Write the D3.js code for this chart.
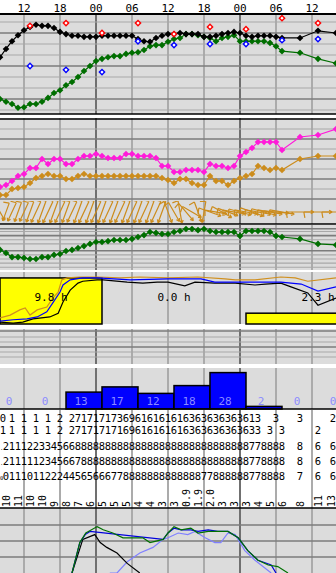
<!DOCTYPE html>
<html>
<head>
<meta charset="utf-8">
<script src="https://cdn.jsdelivr.net/npm/d3@7/dist/d3.min.js"></script>
<style>
body{margin:0;background:#fff}
svg{display:block}
text{font-family:"DejaVu Sans Mono",monospace}
</style>
</head>
<body>
<svg id="chart" width="336" height="573"></svg>
<script>
// hours counted from 08 UTC of the first day
var hours = d3.range(0, 48).concat([50, 53, 56])
var tickHours = [4, 10, 16, 22, 28, 34, 40, 46, 52]
var tickLabels = ["12", "18", "00", "06", "12", "18", "00", "06", "12"]

// temperature / dew point (deg C)
var temp = [1.6,3.1,4.5,5.6,6.5,7.1,7.5,7.3,7.3,6.9, 6.2,5.8,5.5,5.5,5.3,5.3,5.3,5.5,5.5,5.5,
  5.5,5.5,5.5,4.9,4.5,4.4,5.1,5.5,5.8,5.8, 6.0,5.8,5.8,5.8,5.3,5.3,5.5,5.8,6.0,6.2,
  6.0,5.5,5.3,5.5,5.5,5.5,5.3,5.1, 5.1,6.4,6.0]
var dew = [-6.0,-6.5,-6.9,-7.6,-7.5,-6.9,-6.9,-6.5,-5.8,-4.9, -4.4,-3.5,-2.9,-2.0,-0.9,0.0,0.9,1.3,1.6,1.8,
  1.8,2.2,2.4,2.5,2.9,3.6,3.8,3.8,4.4,4.9, 5.1,5.8,5.8,5.6,5.3,5.1,4.5,5.1,5.3,5.6,
  4.5,4.5,4.5,4.5,4.5,4.2,3.6,2.7, 2.4,1.3,0.5]
var extHours = [5, 11, 17, 23, 29, 35, 41, 47, 53]
var tMax = [7.3, 7.8, 6.0, 7.8, 5.8, 7.1, 6.7, 8.7, 7.8]
var tMin = [0.0, -0.7, -1.1, 4.5, 3.8, 4.0, 4.0, 4.7, 4.9]

// wind gust / mean wind (m/s) and direction the wind blows to (deg)
var gust = [2.4,2.8,3.6,4.6,5.0,6.2,6.2,8.0,7.0,8.0, 8.0,7.0,7.0,8.0,8.6,8.6,9.0,8.6,8.2,8.2,
  8.2,9.0,9.0,8.6,8.6,8.6,8.2,6.6,6.6,5.4, 5.4,5.8,5.8,5.8,5.4,7.0,6.6,6.6,6.2,6.6,
  8.6,9.4,10.2,11.4,11.4,11.4,11.4,9.8, 12.4,12.8,14.0]
var wind = [0.8,0.8,2.0,2.2,2.4,3.2,4.2,4.6,5.0,4.6, 4.6,4.0,4.0,4.6,5.0,4.6,4.6,4.6,4.6,4.6,
  4.6,4.6,4.6,4.6,4.6,4.6,4.6,4.2,3.8,3.2, 4.0,4.0,3.2,2.8,2.8,4.6,3.6,3.6,2.8,3.6,
  4.2,4.6,5.0,6.6,6.2,5.8,6.2,5.8, 8.0,8.6,8.6]
var windDir = [150,200,205,200,205,200,205,200,205,200, 205,200,205,200,205,200,205,200,205,200,
  205,200,205,200,205,200,205,200,160,150, 170,140,120,160,190,110,100,120,110,100,
  105,100,110,100,105,100,95,100, 90,90,90]

// temperature aloft
var t850 = [-4.7,-5.8,-7.3,-7.3,-7.6,-8.0,-8.0,-7.3,-7.3,-6.5, -6.2,-5.1,-4.7,-4.0,-3.3,-2.5,-1.8,-1.8,-1.5,-1.1,
  -1.1,-1.1,-0.7,0.0,0.7,1.8,1.5,1.1,1.1,1.8, 2.2,2.9,2.9,2.5,2.9,2.2,1.8,1.8,1.8,1.8,
  0.4,2.2,2.2,2.2,2.2,1.8,0.4,0.0, -0.7,-2.5,-2.9]

// sunshine per day (h)
var sunStart = [0, 17, 41]
var sunEnd = [17, 41, 65]
var sunHours = [9.8, 0.0, 2.3]

// cloud cover (%), [hour, value]
var cloudHigh = [[0,13],[1.7,19],[3.3,30],[4.2,34],[5,19],[6.2,30],[7.8,36],[8.8,55],[9.7,68],[10.3,94],[11.2,98],
  [13.3,100],[16.2,100],[20,98],[23.3,100],[28,98],[33,100],[37.5,96],[39.2,94],[42.5,94],[46.8,100],[49.2,98],[51.3,91],[56,98]]
var cloudMid = [[0,6],[2.2,9],[4.5,11],[6.2,15],[7.8,26],[8.8,45],[10,68],[10.5,83],[11.7,94],[13.8,98],[16.2,98],
  [21.7,94],[28,96],[33.5,96],[35.8,89],[39.2,89],[44.2,89],[46.8,89],[50.2,85],[53,70],[56,79]]
var cloudLow = [[0,4],[2.2,2],[3.8,4],[5.5,11],[8.3,15],[9.7,23],[10.5,47],[11.7,72],[13,87],[13.8,91],[16.2,94],
  [17.2,94],[21.2,89],[23.8,87],[26.2,89],[28,89],[30.8,81],[32.5,89],[35.8,87],[39.2,87],[42.5,83],[44.2,85],
  [46.8,87],[48.5,79],[51.3,66],[53,40],[56,55]]

// precipitation, 6-hour blocks
var precStart = [-1, 5, 11, 17, 23, 29, 35, 41, 47, 53]
var precValue = [0, 0, 13, 17, 12, 18, 28, 2, 0, 0]

// text rows, one character per hour (h0..h47) then 3-hourly
var textRows = [
  "0 1 1 1 1 2 2" + "7171717369616161616363636363613" + "  3 ",
  "1 1 1 1 1 2 2" + "7171717169616161616363636363633" + " 3 3",
  ".2111223345668" + "8888888888888888888888888888" + "778888",
  ".21111123456678" + "888888888888888888888888888" + "778888",
  "001110112224456566677" + "8888888888888" + "77" + "888888" + "778888"
]
var textRowsLate = [["3", "", "2"], ["", "2", ""], ["8", "6", "6"], ["8", "6", "6"], ["7", "6", "6"]]
var rotHours = [1,3,5,7,9,11,13,15,17,19,21,23,25,27,29,31,33,35,37,39,41,43,45,47,50,53,56]
var rotLabels = ["10","11","10","10","9","8","7","6","5","5","5","4","4","3","3","0.9","1.9","2.0","3","3","3","4","5","6","8","11","13"]

// bottom panel curves, [hour, value]
var curveGreen = [[12,0],[13.3,19],[14.3,25],[16.2,29],[17.2,27],[18.8,25],[20.5,22],[23.8,22],[25,19],[27.2,21],[28,25],
  [29,29],[30.2,27],[31.8,28],[33,25],[34.7,26],[36.3,26],[38,26],[39.7,22],[41.3,14],[43,8],[44.7,5],[46.3,4],[48,0]]
var curveBlue = [[12,0],[13.3,19],[14.2,24],[15,26],[27.2,21],[28,25],[29,28],[30.2,27],[31.8,27],[33,26],[34.7,27],
  [36.3,26],[38,26],[39.7,22],[41.3,14],[43,8],[45.2,5],[46,0]]
var curveBlack = [[12,0],[13.8,21],[15.8,24],[16.7,19],[17.8,16],[19.5,12.5],[21.2,6],[23.3,0]]
var curveLight = [[18.3,0],[19.5,0],[21.2,7],[23.3,12.5],[25.5,16],[27.2,21],[28,22],[29.7,25],[31.3,24],[32.5,26],
  [34.2,22],[35.8,19],[36.8,19],[38,25],[39.2,24],[40.8,14],[42.5,8],[45.2,0]]

var svg = d3.select("#chart")
var x = d3.scaleLinear().domain([0, 56]).range([0, 336])
var W = 336

var gBg = svg.append("g")
var gGrid = svg.append("g")
var gData = svg.append("g")
var gTop = svg.append("g")

function panel(y0, y1) {
  gBg.append("rect").attr("x", 0).attr("y", y0).attr("width", W).attr("height", y1 - y0).attr("fill", "#dcdcdc")
}
function vGrid(y0, y1) {
  tickHours.forEach(function(h, i) {
    var dark = tickLabels[i] == "00"
    gGrid.append("line").attr("x1", x(h)).attr("x2", x(h)).attr("y1", y0).attr("y2", y1)
      .attr("stroke", dark ? "#707070" : "#ababab").attr("stroke-width", 2)
  })
}
function hGrid(scale, vals, darkFn) {
  vals.forEach(function(v) {
    gGrid.append("line").attr("x1", 0).attr("x2", W).attr("y1", scale(v)).attr("y2", scale(v))
      .attr("stroke", darkFn(v) ? "#7c7c7c" : "#a8a8a8").attr("stroke-width", darkFn(v) ? 1.6 : 1.2)
  })
}
function hline(y, color, w) {
  gTop.append("line").attr("x1", 0).attr("x2", W).attr("y1", y).attr("y2", y)
    .attr("stroke", color).attr("stroke-width", w)
}
var diamond = d3.symbol(d3.symbolSquare, 22)
function series(g, xs, ys, yScale, color, marker) {
  var pts = xs.map(function(h, i) { return [x(h), yScale(ys[i])] })
  g.append("path").attr("d", d3.line()(pts)).attr("fill", "none").attr("stroke", color).attr("stroke-width", 1.2)
  if (marker) {
    g.selectAll(null).data(pts).enter().append("path")
      .attr("transform", function(p) { return "translate(" + p[0] + "," + p[1] + ") rotate(45)" })
      .attr("d", diamond).attr("fill", color)
  }
}
function curve(g, pairs, yScale, color) {
  g.append("path").attr("d", d3.line().x(function(d) { return x(d[0]) }).y(function(d) { return yScale(d[1]) })(pairs))
    .attr("fill", "none").attr("stroke", color).attr("stroke-width", 1.2)
}

// time labels
tickHours.forEach(function(h, i) {
  gTop.append("text").attr("x", x(h)).attr("y", 12).attr("text-anchor", "middle")
    .attr("font-size", 11).text(tickLabels[i])
})

// ---- panel 1: temperature
var tY = d3.scaleLinear().domain([-8, 10]).range([110, 11])
panel(14, 114); vGrid(14, 114)
hGrid(tY, d3.range(-8, 10, 2), function(v) { return v % 6 == 0 })
series(gData, hours, dew, tY, "#006e00", true)
series(gData, hours, temp, tY, "#000", true)
;[[tMax, "#ff0000"], [tMin, "#0000ff"]].forEach(function(s) {
  gData.selectAll(null).data(s[0]).enter().append("path")
    .attr("transform", function(v, i) { return "translate(" + x(extHours[i]) + "," + tY(v) + ") rotate(45)" })
    .attr("d", d3.symbol(d3.symbolSquare, 14)).attr("fill", "#fff").attr("stroke", s[1]).attr("stroke-width", 1.4)
})
hline(14, "#000", 2); hline(114, "#000", 1.5)

// ---- panel 2: wind
var wY = d3.scaleLinear().domain([0, 16]).range([199, 119])
panel(118, 224); vGrid(118, 224)
hGrid(wY, d3.range(0, 16, 2), function(v) { return v % 4 == 0 })
series(gData, hours, wind, wY, "#cc8c1c", true)
series(gData, hours, gust, wY, "#ff1ad9", true)
svg.append("clipPath").attr("id", "wclip").append("rect").attr("x", 0).attr("y", 201).attr("width", W).attr("height", 22)
var gW = gData.append("g").attr("clip-path", "url(#wclip)").attr("stroke", "#cc8c1c").attr("stroke-width", 1.2).attr("fill", "none")
hours.forEach(function(h, i) {
  var r = windDir[i] * Math.PI / 180, dx = Math.sin(r), dy = -Math.cos(r)
  var len = 18 + wind[i] * 1.2
  var cx = x(h), cy = 212
  var tx = cx - dx * len / 2, ty = cy - dy * len / 2, hx = cx + dx * len / 2, hy = cy + dy * len / 2
  var p = d3.path()
  p.moveTo(tx, ty); p.lineTo(hx, hy)
  ;[150, -150].forEach(function(a) {
    var ra = r + a * Math.PI / 180
    p.moveTo(hx, hy); p.lineTo(hx + Math.sin(ra) * 3.5, hy - Math.cos(ra) * 3.5)
  })
  // feather at the tail
  var rf = r + 80 * Math.PI / 180
  p.moveTo(tx, ty); p.lineTo(tx + Math.sin(rf) * 6, ty - Math.cos(rf) * 6)
  gW.append("path").attr("d", p.toString())
})
hline(119, "#000", 1.5); hline(224, "#000", 1.5)

// ---- panel 3: temperature aloft
var aY = d3.scaleLinear().domain([-12, 4]).range([270, 226])
panel(225, 270); vGrid(225, 270)
hGrid(aY, [-11, -9.5, -8, -6.5, -5, -2.5, -1, 0.5, 2, 3], function(v) { return v == 0.5 || v == 3 || v == -5 })
series(gData, hours, t850, aY, "#006e00", true)

// ---- panel 4: sunshine and clouds
var sY = d3.scaleLinear().domain([0, 10]).range([324, 277])
var cY = d3.scaleLinear().domain([0, 100]).range([324, 277])
panel(272, 324); vGrid(272, 324)
sunHours.forEach(function(v, i) {
  if (v > 0) {
    gData.append("rect").attr("x", x(sunStart[i])).attr("y", sY(v))
      .attr("width", x(sunEnd[i]) - x(sunStart[i])).attr("height", sY(0) - sY(v))
      .attr("fill", "#ffff00").attr("stroke", "#000").attr("stroke-width", 1.5)
  }
})
curve(gData, cloudLow, cY, "#000")
curve(gData, cloudHigh, cY, "#d09020")
curve(gData, cloudMid, cY, "#0000ff")
sunHours.forEach(function(v, i) {
  gData.append("text").attr("x", x((sunStart[i] + sunEnd[i]) / 2)).attr("y", 301)
    .attr("text-anchor", "middle").attr("font-size", 11).text(v.toFixed(1) + " h")
})

// ---- panel 5: empty
var eY = d3.scaleLinear().domain([0, 7]).range([364, 329])
panel(329, 364); vGrid(329, 364)
hGrid(eY, [1.4, 2.4, 3.4, 4.4, 5.4, 6.6], function(v) { return v > 6 || v == 3.4 })

// ---- panel 6: precipitation
var pY = d3.scaleLinear().domain([0, 30]).range([409, 370])
panel(368, 409); vGrid(368, 409)
gData.selectAll(null).data(precValue).enter().append("rect")
  .attr("x", function(v, i) { return x(precStart[i]) }).attr("y", function(v) { return pY(v) })
  .attr("width", x(6) - x(0)).attr("height", function(v) { return pY(0) - pY(v) })
  .attr("fill", "#0000ff").attr("stroke", "#000").attr("stroke-width", function(v) { return v > 0 ? 1.5 : 0 })
gData.selectAll(null).data(precValue).enter().append("text")
  .attr("x", function(v, i) { return x(precStart[i] + 3) - 3 }).attr("y", 405)
  .attr("text-anchor", "middle").attr("font-size", 11).attr("fill", "#8c8cff").text(function(v) { return v })
hline(409, "#000", 1.5)

// ---- text table
vGrid(410, 508)
var rowY = [422, 434, 450, 465, 480]
textRows.forEach(function(s, r) {
  s.split("").forEach(function(c, i) {
    if (c == " ") return
    var first = i == 0 && r > 1
    gData.append("text").attr("x", first ? 1.6 : (i == 0 ? 3 : x(hours[i]))).attr("y", rowY[r])
      .attr("text-anchor", "middle").attr("font-size", first ? 5.5 : 10.5).text(c)
  })
  textRowsLate[r].forEach(function(c, k) {
    gData.append("text").attr("x", Math.min(x(hours[48 + k]), 333)).attr("y", rowY[r]).attr("text-anchor", "middle")
      .attr("font-size", 10.5).text(c)
  })
})
rotLabels.forEach(function(t, i) {
  gData.append("text").attr("transform", "translate(" + (Math.min(x(rotHours[i]), 331) + 3.5) + ",507) rotate(-90)")
    .attr("font-size", 10).text(t)
})

// ---- bottom panel
var bY = d3.scaleLinear().domain([0, 40]).range([573, 509])
panel(508, 573); vGrid(508, 573)
hGrid(bY, [10, 20, 30], function() { return true })
curve(gData, curveLight, bY, "#8080ff")
curve(gData, curveBlack, bY, "#000")
curve(gData, curveBlue, bY, "#0000dd")
curve(gData, curveGreen, bY, "#007000")
hline(508, "#000", 1.5)
</script>
</body>
</html>
